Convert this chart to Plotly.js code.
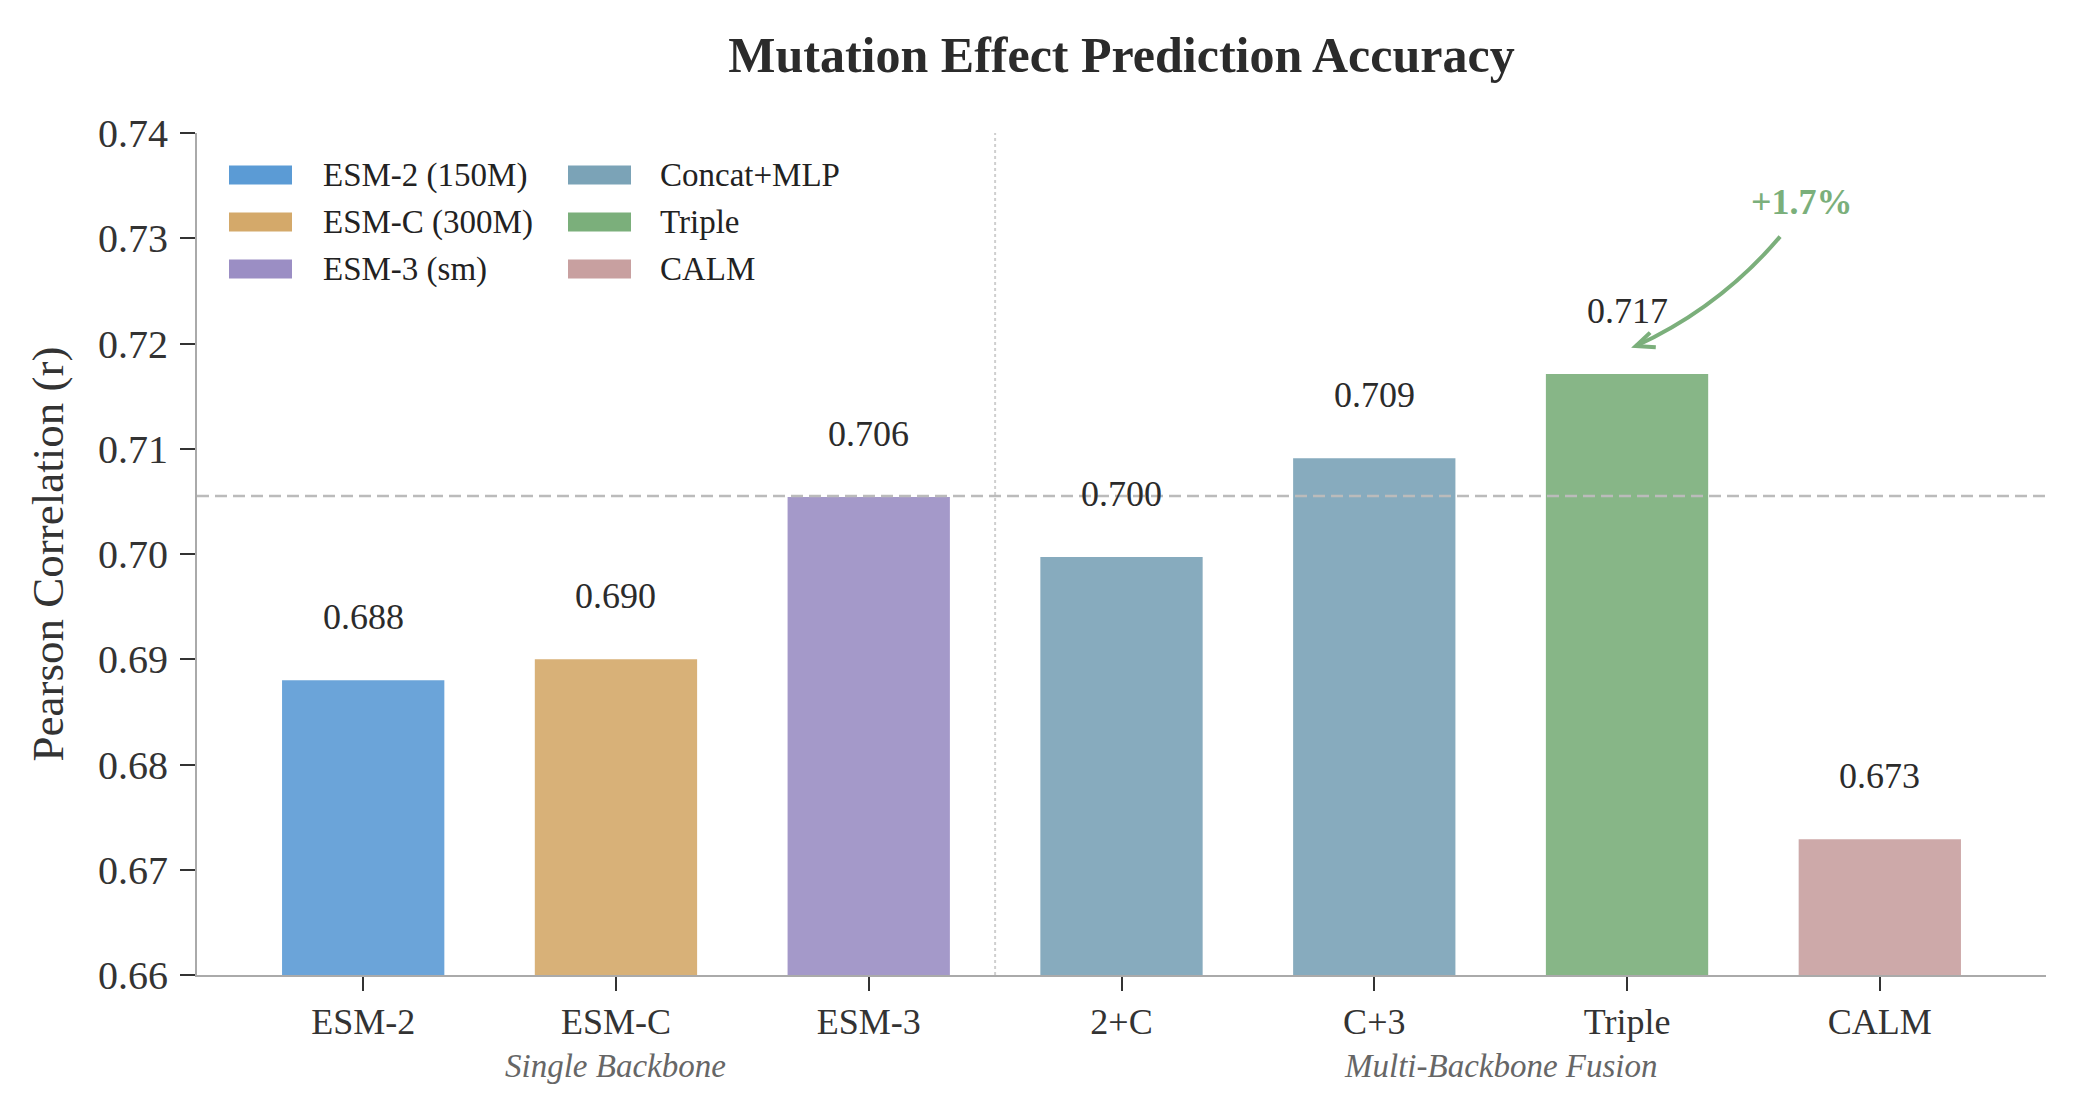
<!DOCTYPE html>
<html>
<head>
<meta charset="utf-8">
<script src="https://cdn.plot.ly/plotly-3.0.1.min.js"></script>
<style>html,body{margin:0;padding:0;background:#fff;}#chart{width:2080px;height:1119px;}</style>
</head>
<body>
<div id="chart"></div>
<script>
// ---- data ----
const categories = ["ESM-2", "ESM-C", "ESM-3", "2+C", "C+3", "Triple", "CALM"];
const values = [0.6881, 0.6901, 0.7055, 0.6998, 0.7092, 0.7172, 0.6730];
const valueLabels = ["0.688", "0.690", "0.706", "0.700", "0.709", "0.717", "0.673"];
const barGroup = [0, 1, 2, 3, 3, 4, 5];
const legendNames = ["ESM-2 (150M)", "ESM-C (300M)", "ESM-3 (sm)", "Concat+MLP", "Triple", "CALM"];
const legendColors = ["#5B9BD5", "#D4A96A", "#9B8EC4", "#7BA3B7", "#7BAF7B", "#C8A0A0"];
const sectionLabels = ["Single Backbone", "Multi-Backbone Fusion"];
const sectionCenters = [1, 4.5];
const sectionDivider = 2.5;
const baselineValue = values[2];
const gainText = "+1.7%";
const yTicks = [0.66, 0.67, 0.68, 0.69, 0.70, 0.71, 0.72, 0.73, 0.74];

// ---- layout geometry (pixels) ----
const L = 197, R = 2046, T = 133, B = 975;
const W = R - L, H = B - T;
const px = v => (v - L) / W;
const py = v => (B - v) / H;
const FONT = "Liberation Serif, Times New Roman, serif";

const xs = categories.map((_, i) => i);

const trace = {
  type: "bar",
  x: xs,
  y: values,
  width: 0.65,
  marker: {
    color: barGroup.map(g => legendColors[g]),
    opacity: 0.9,
    line: {color: "#ffffff", width: 2}
  },
  text: valueLabels,
  textposition: "none",
  hovertemplate: "%{customdata}: %{y:.3f}<extra></extra>",
  customdata: categories,
  showlegend: false
};

const annotations = [];
// value labels
xs.forEach((x, i) => {
  annotations.push({
    x: x, y: values[i], xref: "x", yref: "y",
    text: valueLabels[i], showarrow: false,
    yshift: 62, yanchor: "middle", xanchor: "center",
    font: {family: FONT, size: 36, color: "#2b2b2b"}
  });
});
// section labels
sectionLabels.forEach((s, i) => {
  annotations.push({
    x: sectionCenters[i], xref: "x", y: py(1066), yref: "paper",
    text: "<i>" + s + "</i>", showarrow: false,
    xanchor: "center", yanchor: "middle",
    font: {family: FONT, size: 33, color: "#666666"}
  });
});
// manual legend
const shapes = [];
const rowY = [175, 222, 269];
legendNames.forEach((n, i) => {
  const col = Math.floor(i / 3), row = i % 3;
  const sx0 = col === 0 ? 229 : 568;
  const sx1 = sx0 + 63;
  const tx = col === 0 ? 321 : 658;
  shapes.push({
    type: "rect", xref: "paper", yref: "paper",
    x0: px(sx0), x1: px(sx1), y0: py(rowY[row] + 9.5), y1: py(rowY[row] - 9.5),
    fillcolor: legendColors[i], line: {width: 0}
  });
  annotations.push({
    x: px(tx), y: py(rowY[row]), xref: "paper", yref: "paper",
    text: n, showarrow: false, xanchor: "left", yanchor: "middle",
    font: {family: FONT, size: 33, color: "#222222"}
  });
});
// gain label
annotations.push({
  x: 5.694, y: 0.7334, xref: "x", yref: "y",
  text: "<b>" + gainText + "</b>", showarrow: false,
  xanchor: "center", yanchor: "middle",
  font: {family: FONT, size: 36, color: "#7BAF7B"}
});

// reference lines
shapes.push({
  type: "line", xref: "paper", yref: "y", x0: 0, x1: 1, y0: baselineValue, y1: baselineValue,
  line: {color: "#BBBBBB", width: 2.5, dash: "12px,6px"}, layer: "above"
});
shapes.push({
  type: "line", xref: "x", yref: "paper", x0: sectionDivider, x1: sectionDivider, y0: 0, y1: 1,
  line: {color: "#CFCFCF", width: 2, dash: "dot"}, layer: "below"
});
// curved arrow
shapes.push({
  type: "path", xref: "x", yref: "y",
  path: "M5.6055,0.73015 Q5.368,0.72344 5.0348,0.71976",
  line: {color: "#7BAF7B", width: 4}, layer: "above"
});
shapes.push({
  type: "path", xref: "x", yref: "y",
  path: "M5.0913,0.72103 L5.0348,0.71976 L5.1138,0.71964",
  line: {color: "#7BAF7B", width: 4}, layer: "above"
});

const layout = {
  width: 2080, height: 1119,
  margin: {l: L, r: 2080 - R, t: T, b: 1119 - B, pad: 0},
  paper_bgcolor: "#ffffff", plot_bgcolor: "#ffffff",
  font: {family: FONT, color: "#333333"},
  title: {
    text: "<b>Mutation Effect Prediction Accuracy</b>",
    font: {family: FONT, size: 50, color: "#2b2b2b"},
    x: (L + W / 2) / 2080, xanchor: "center", xref: "container",
    y: 1 - 54 / 1119, yanchor: "middle", yref: "container"
  },
  xaxis: {
    type: "linear", range: [-0.6575, 6.6575],
    tickmode: "array", tickvals: xs, ticktext: categories,
    ticks: "outside", ticklen: 14, tickwidth: 2, tickcolor: "#333333",
    showline: true, linecolor: "#AAAAAA", linewidth: 2,
    showgrid: false, zeroline: false, fixedrange: true,
    tickfont: {family: FONT, size: 36, color: "#333333"}
  },
  yaxis: {
    range: [0.66, 0.74],
    tickmode: "array", tickvals: yTicks, ticktext: yTicks.map(v => v.toFixed(2)),
    ticks: "outside", ticklen: 15, tickwidth: 2, tickcolor: "#333333",
    ticklabelstandoff: 4,
    showline: true, linecolor: "#AAAAAA", linewidth: 2,
    showgrid: false, zeroline: false, fixedrange: true,
    tickfont: {family: FONT, size: 40, color: "#333333"},
    title: {text: "Pearson Correlation (r)", standoff: 20,
            font: {family: FONT, size: 45, color: "#333333"}}
  },
  bargap: 0,
  shapes: shapes,
  annotations: annotations,
  showlegend: false
};

Plotly.newPlot("chart", [trace], layout, {displayModeBar: false, staticPlot: true});
</script>
</body>
</html>
